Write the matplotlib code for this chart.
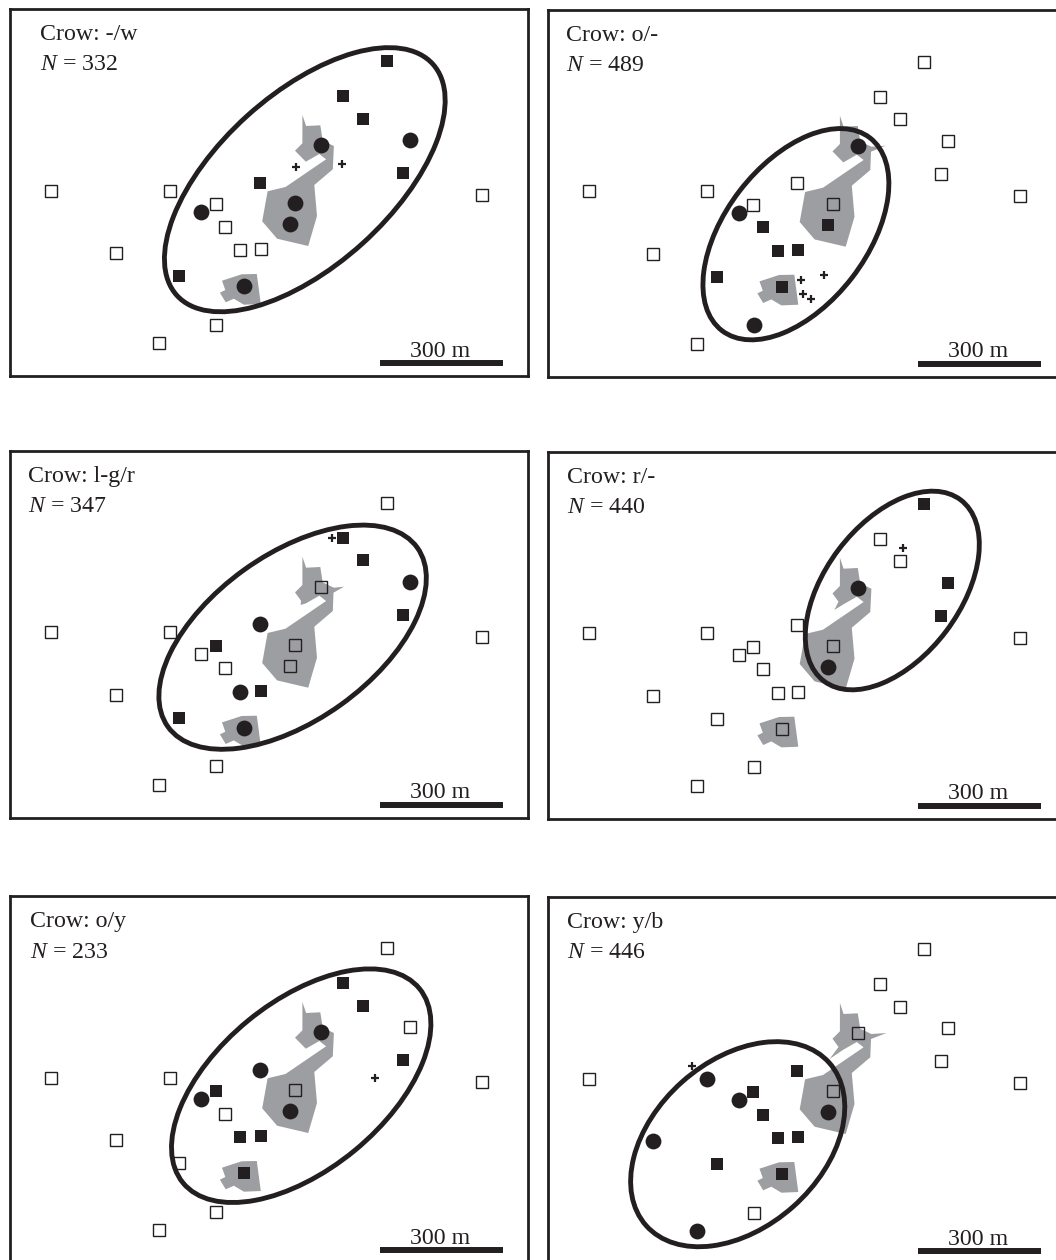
from __future__ import annotations

import matplotlib
matplotlib.use("Agg")
import matplotlib.pyplot as plt
from matplotlib.patches import Ellipse, Polygon

FIG_W = 1056
FIG_H = 1260
PANEL_W = 518
PANEL_H = 367

INK = "#231f20"
GREY = "#9d9ea1"

plt.rcParams["font.family"] = ["Liberation Serif", "DejaVu Serif"]
plt.rcParams["mathtext.fontset"] = "custom"
plt.rcParams["mathtext.it"] = "Liberation Serif:italic"
plt.rcParams["mathtext.rm"] = "Liberation Serif"

# map units are pixels from the top left of a panel, 300 m is the scale bar
crows = ["-/w", "o/-", "l-g/r", "r/-", "o/y", "y/b"]
counts = [332, 489, 347, 440, 233, 446]
panel_left = [10, 547.5, 10, 547.5, 10, 547.5]
panel_top = [9, 9.7, 450.7, 451.7, 896, 897]
label_x = [29.7, 18.1, 17.9, 19.1, 19.6, 19.5]

# same 22 sites in every panel
site_x = [41.2, 159.9, 205.5, 191.0, 215.3, 230.2, 250.5, 105.5, 206.2, 149.1, 472.3,
          169.4, 234.3, 280.3, 285.0, 249.5, 310.7, 332.7, 352.6, 376.6, 400.3, 393.2]
site_y = [181.7, 181.7, 195.0, 203.3, 217.7, 241.0, 240.0, 244.0, 315.7, 334.3, 186.3,
          267.3, 277.3, 215.0, 194.3, 173.7, 136.3, 87.0, 109.7, 52.0, 131.3, 164.3]

# o = open square, f = filled square, c = circle
site_use = [
    "ooocooooooofcccfcfffcf",
    "ooocfffocoofffoocooooo",
    "oofoocfoooofcoocoffocf",
    "ooooooooooooocoocoofff",
    "oofcoffooooofcoccffoof",
    "ocfcfffcocoffcofoooooo",
]

plus_x = [[285.7, 332.0], [253.9, 276.0, 255.3, 263.0], [321.5], [355.9], [365.1], [144.2]]
plus_y = [[157.7, 155.0], [270.7, 265.7, 284.0, 289.3], [87.7], [96.0], [182.3], [168.7]]

ellipse_x = [294.8, 248.4, 282.6, 344.8, 291.2, 190.2]
ellipse_y = [170.7, 224.5, 186.5, 138.8, 189.7, 247.2]
ellipse_w = [345, 243, 307, 227, 306, 245]
ellipse_h = [172, 142, 166, 135, 168, 167]
ellipse_angle = [42.1, 52.5, 35.7, 53.0, 39.4, 41.6]

big_x = [292.4, 296.1, 310.3, 312.7, 323.9, 322.8, 304.3, 307.0, 298.2, 267.1, 252.2,
         257.6, 275.5, 316.1, 309.3, 295.8, 285.0, 292.4]
big_y = [106.0, 117.0, 116.3, 131.7, 137.0, 160.3, 176.0, 207.0, 237.0, 229.7, 212.3,
         182.3, 178.0, 150.3, 145.0, 152.7, 141.7, 134.3]
small_x = [212.0, 231.6, 246.8, 250.8, 233.9, 223.8, 215.7, 209.9, 215.3]
small_y = [271.7, 265.3, 265.0, 295.0, 295.7, 289.7, 293.3, 283.7, 281.0]

# thin slivers that only some crows have on the big patch
right_spike = [None, (338.0, 136.0), (334.0, 136.0), None, None, (339.0, 136.0)]
lower_spike = [None, None, (290.7, 154.3), (286.8, 158.3), None, (282.1, 162.0)]

bar_x = [370, 493]
bar_y = 354.3


def big_patch(index: int) -> list[tuple[float, float]]:
    points = list(zip(big_x, big_y))
    lower = lower_spike[index]
    if lower is not None:
        # goes between the notch corner and the left lobe
        points[16:16] = [lower, (291.0, 150.0)]
    right = right_spike[index]
    if right is not None:
        points[5:5] = [right, (323.5, 142.0)]
    return points


def draw_panel(fig: plt.Figure, index: int) -> None:
    left = panel_left[index] / FIG_W
    bottom = 1 - (panel_top[index] + PANEL_H) / FIG_H
    ax = fig.add_axes([left, bottom, PANEL_W / FIG_W, PANEL_H / FIG_H])
    ax.set_xlim(0, PANEL_W)
    ax.set_ylim(PANEL_H, 0)
    ax.set_xticks([])
    ax.set_yticks([])
    for spine in ax.spines.values():
        spine.set_linewidth(2.0)
        spine.set_edgecolor(INK)

    ax.add_patch(Polygon(big_patch(index), closed=True, facecolor=GREY, edgecolor="none", zorder=1))
    ax.add_patch(Polygon(list(zip(small_x, small_y)), closed=True, facecolor=GREY, edgecolor="none", zorder=1))

    use = site_use[index]
    open_x = [x for x, u in zip(site_x, use) if u == "o"]
    open_y = [y for y, u in zip(site_y, use) if u == "o"]
    filled_x = [x for x, u in zip(site_x, use) if u == "f"]
    filled_y = [y for y, u in zip(site_y, use) if u == "f"]
    circle_x = [x for x, u in zip(site_x, use) if u == "c"]
    circle_y = [y for y, u in zip(site_y, use) if u == "c"]

    ax.plot(open_x, open_y, ls="none", marker="s", ms=8.4, mfc="none", mec=INK, mew=1.0, zorder=2)
    ax.add_patch(
        Ellipse(
            (ellipse_x[index], ellipse_y[index]),
            ellipse_w[index],
            ellipse_h[index],
            angle=-ellipse_angle[index],
            fill=False,
            edgecolor=INK,
            linewidth=3.5,
            zorder=3,
        )
    )
    ax.plot(filled_x, filled_y, ls="none", marker="s", ms=9.3, mfc=INK, mec=INK, mew=0, zorder=4)
    ax.plot(circle_x, circle_y, ls="none", marker="o", ms=11.4, mfc=INK, mec=INK, mew=0, zorder=4)
    ax.plot(plus_x[index], plus_y[index], ls="none", marker="+", ms=6.0, mec=INK, mew=1.6, zorder=4)

    ax.plot(bar_x, [bar_y, bar_y], color=INK, lw=4.3, solid_capstyle="butt", zorder=4)
    ax.text(sum(bar_x) / 2 - 1, 347.7, "300 m", ha="center", va="baseline", fontsize=17.2, color=INK)

    ax.text(label_x[index], 31.2, f"Crow: {crows[index]}", va="baseline", fontsize=17.2, color=INK)
    ax.text(label_x[index], 61.5, rf"$N$ = {counts[index]}", va="baseline", fontsize=17.2, color=INK)


def main() -> int:
    fig = plt.figure(figsize=(FIG_W / 100, FIG_H / 100), dpi=100, facecolor="white")
    for index in range(len(crows)):
        draw_panel(fig, index)
    fig.savefig("out.png", dpi=100)
    plt.close(fig)
    return 0


if __name__ == "__main__":
    raise SystemExit(main())
